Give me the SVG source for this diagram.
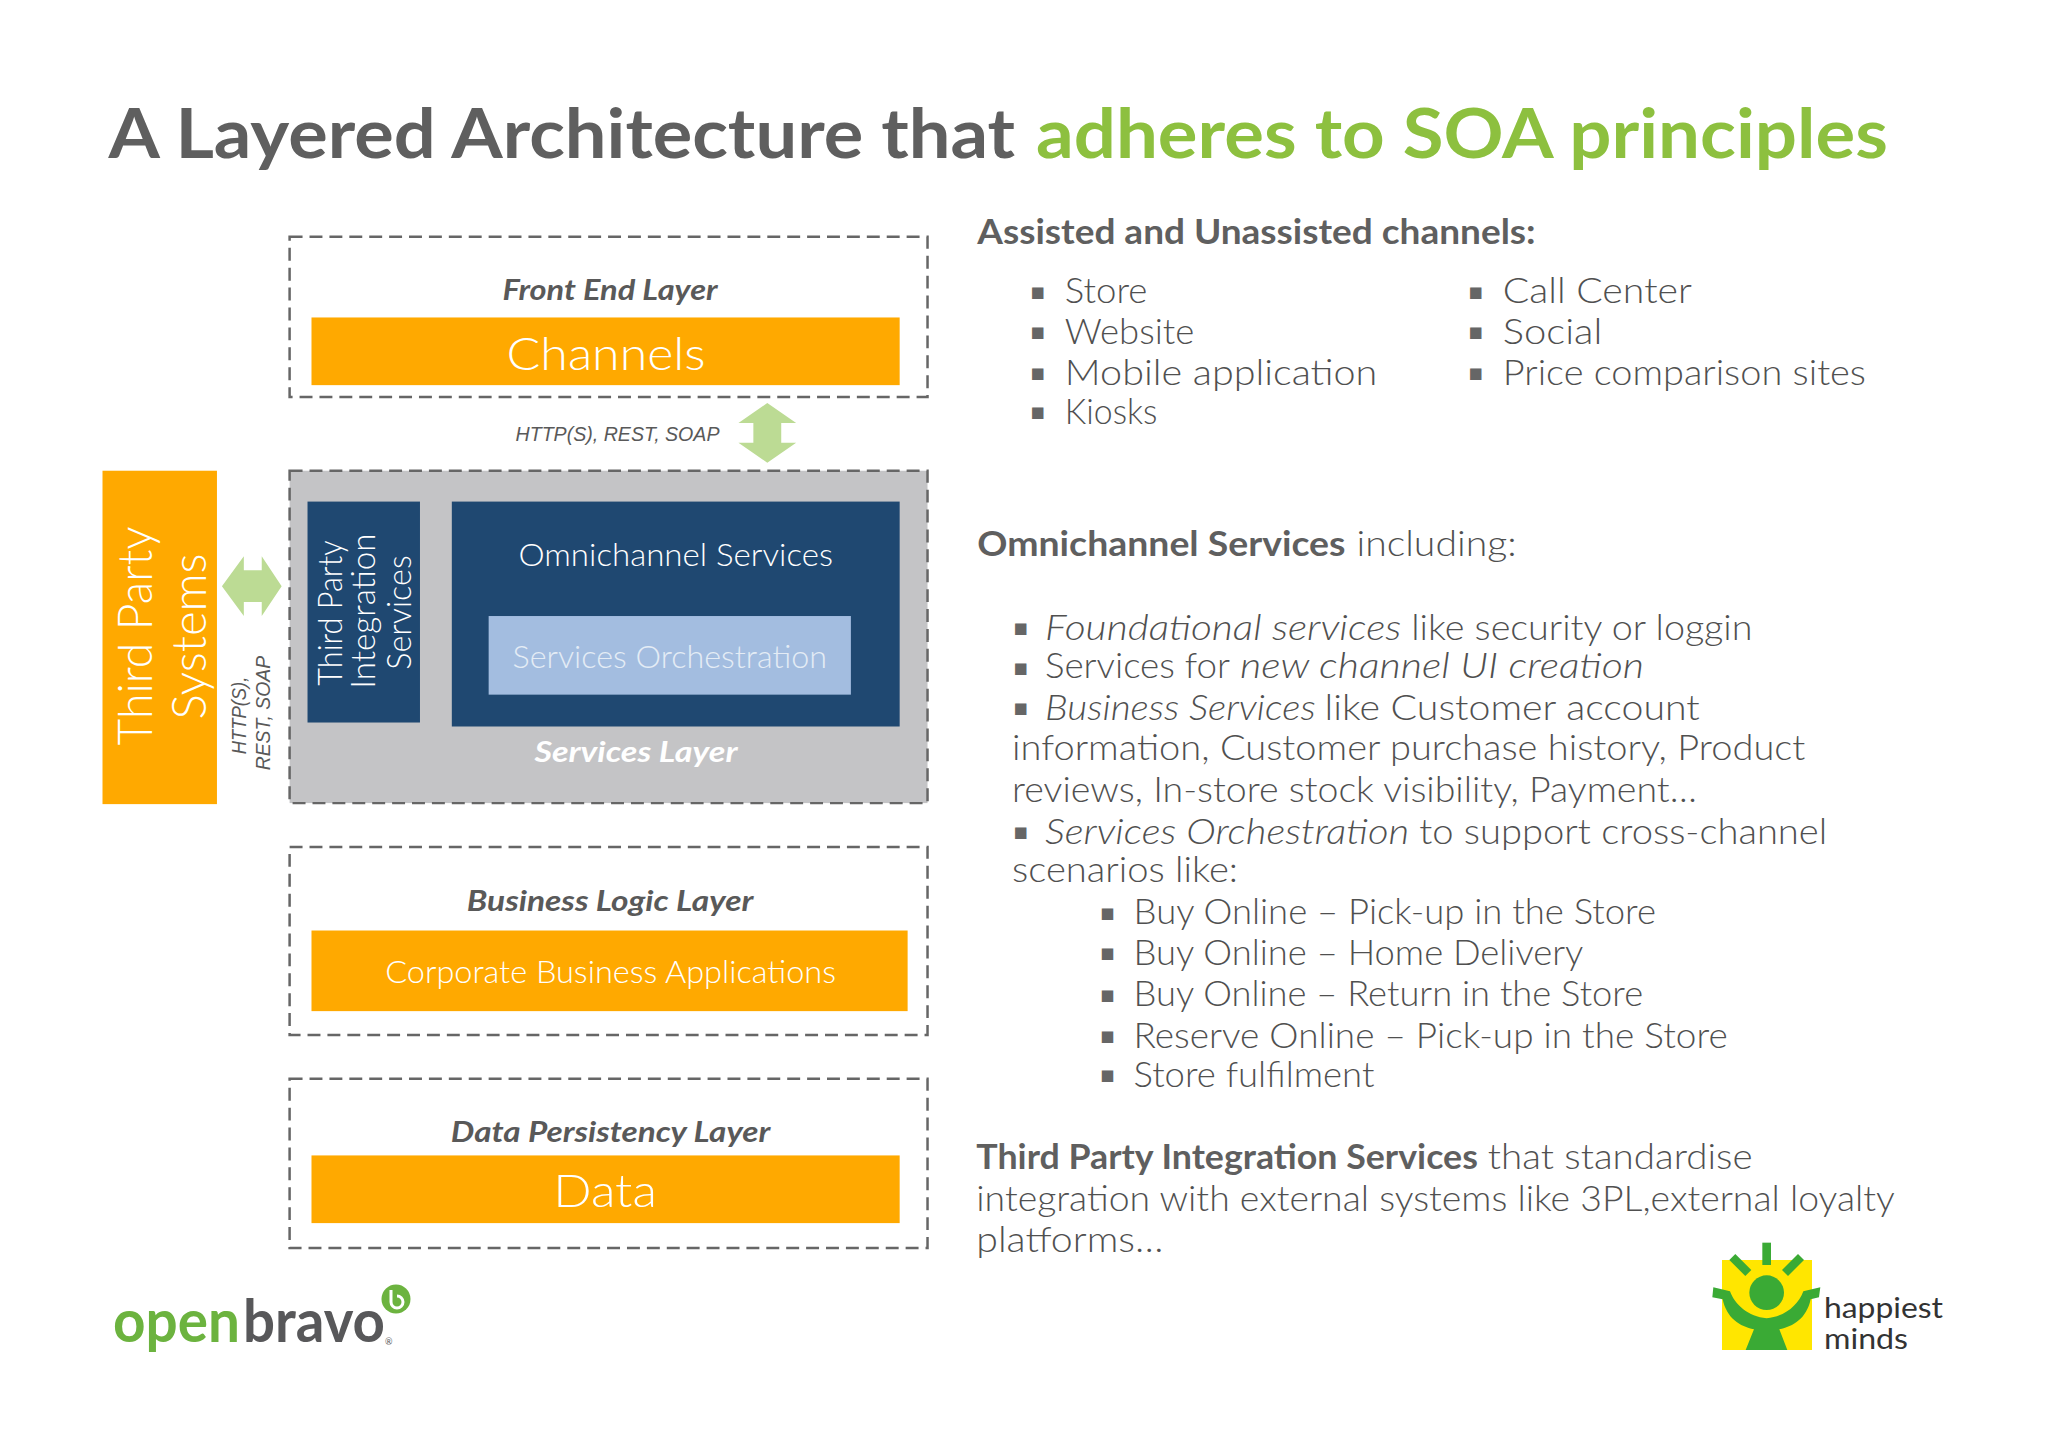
<svg xmlns="http://www.w3.org/2000/svg" width="2048" height="1447" viewBox="0 0 2048 1447">
<style>
text{font-family:"Lato","Liberation Sans",sans-serif;fill:#595959}
.title{font-size:70px;font-weight:700;fill:#5f5f5f}
.green{fill:#8dc03f}
.b{font-size:35px;font-weight:300;fill:#505050}
.bb{font-size:34px;font-weight:700;fill:#5f5f5f}
.i{font-size:35px;font-style:italic;font-weight:300;fill:#505050}
.dot{font-family:"DejaVu Sans",sans-serif;font-size:23px;fill:#666}
.lay{font-size:28px;font-weight:700;font-style:italic}
.proto{font-family:"Liberation Sans",sans-serif;font-size:20px;font-style:italic}
.w{fill:#fff;font-weight:300}
.lay.w{font-weight:700}
.dash{fill:none;stroke:#666;stroke-width:2.5;stroke-dasharray:13 7}
.or{fill:#ffa900}
.navy{fill:#1f4871}
.arrow{fill:#bcdb94}
.hg{fill:#3aaa35}
</style>
<rect width="2048" height="1447" fill="#fff"/>
<g id="diagram" transform="scale(.9952)">
<g id="title">
<text class="title" x="109" y="159" textLength="911" lengthAdjust="spacingAndGlyphs">A Layered Architecture that</text>
<text class="title green" x="1041" y="159" textLength="856" lengthAdjust="spacingAndGlyphs">adheres to SOA principles</text>
</g>
<g id="front-end-layer">
<rect class="dash" x="291" y="238" width="641" height="161"/>
<text class="lay" x="505" y="301" textLength="216" lengthAdjust="spacingAndGlyphs">Front End Layer</text>
<rect class="or" x="313" y="319" width="591" height="68"/>
<text class="w" style="font-size:46px" x="509" y="372" textLength="200" lengthAdjust="spacingAndGlyphs">Channels</text>
</g>
<g id="services-layer">
<rect class="dash" x="291" y="473" width="641" height="334" style="fill:#c4c4c6"/>
<rect class="navy" x="309" y="504" width="113" height="222"/>
<text class="w" style="font-size:33px" transform="translate(344 689) rotate(-90)" textLength="146" lengthAdjust="spacingAndGlyphs">Third Party</text>
<text class="w" style="font-size:33px" transform="translate(377 692) rotate(-90)" textLength="156" lengthAdjust="spacingAndGlyphs">Integration</text>
<text class="w" style="font-size:33px" transform="translate(413 673) rotate(-90)" textLength="115" lengthAdjust="spacingAndGlyphs">Services</text>
<rect class="navy" x="454" y="504" width="450" height="226"/>
<text class="w" style="font-size:32px" x="521" y="569" textLength="316" lengthAdjust="spacingAndGlyphs">Omnichannel Services</text>
<rect x="491" y="619" width="364" height="79" fill="#a3bde0"/>
<text style="font-size:32px;fill:#e4ecf5;font-weight:300" x="515" y="671" textLength="316" lengthAdjust="spacingAndGlyphs">Services Orchestration</text>
<text class="lay w" x="537" y="766" textLength="204" lengthAdjust="spacingAndGlyphs">Services Layer</text>
</g>
<g id="third-party-systems">
<rect class="or" x="103" y="473" width="115" height="335"/>
<text class="w" style="font-size:47px" transform="translate(153 749) rotate(-90)" textLength="220" lengthAdjust="spacingAndGlyphs">Third Party</text>
<text class="w" style="font-size:47px" transform="translate(207 723) rotate(-90)" textLength="167" lengthAdjust="spacingAndGlyphs">Systems</text>
</g>
<g id="business-logic-layer">
<rect class="dash" x="291" y="851" width="641" height="189"/>
<text class="lay" x="469" y="915" textLength="288" lengthAdjust="spacingAndGlyphs">Business Logic Layer</text>
<rect class="or" x="313" y="935" width="599" height="81"/>
<text class="w" style="font-size:32px" x="387" y="988" textLength="453" lengthAdjust="spacingAndGlyphs">Corporate Business Applications</text>
</g>
<g id="data-persistency-layer">
<rect class="dash" x="291" y="1084" width="641" height="170"/>
<text class="lay" x="453" y="1148" textLength="321" lengthAdjust="spacingAndGlyphs">Data Persistency Layer</text>
<rect class="or" x="313" y="1161" width="591" height="68"/>
<text class="w" style="font-size:46px" x="556" y="1213" textLength="104" lengthAdjust="spacingAndGlyphs">Data</text>
</g>
<g id="connectors">
<path class="arrow" d="M771 405 L800 425 H785 V445 H800 L771 465 L742 445 H757 V425 H742 Z"/>
<text class="proto" x="518" y="443" textLength="205" lengthAdjust="spacingAndGlyphs">HTTP(S), REST, SOAP</text>
<path class="arrow" d="M223 589 L245 559 V573 H263 V559 L283 589 L263 619 V605 H245 V619 Z"/>
<text class="proto" transform="translate(247 758) rotate(-90)" textLength="78" lengthAdjust="spacingAndGlyphs">HTTP(S),</text>
<text class="proto" transform="translate(271 774) rotate(-90)" textLength="115" lengthAdjust="spacingAndGlyphs">REST, SOAP</text>
</g>
<g id="channels-text">
<text class="bb" x="982" y="245" textLength="561" lengthAdjust="spacingAndGlyphs">Assisted and Unassisted channels:</text>
<text class="dot" x="1035" y="300">▪</text><text class="b" x="1070" y="304" textLength="83" lengthAdjust="spacingAndGlyphs">Store</text>
<text class="dot" x="1035" y="341">▪</text><text class="b" x="1070" y="346" textLength="130" lengthAdjust="spacingAndGlyphs">Website</text>
<text class="dot" x="1035" y="382">▪</text><text class="b" x="1070" y="387" textLength="314" lengthAdjust="spacingAndGlyphs">Mobile application</text>
<text class="dot" x="1035" y="421">▪</text><text class="b" x="1070" y="426" textLength="93" lengthAdjust="spacingAndGlyphs">Kiosks</text>
<text class="dot" x="1475" y="300">▪</text><text class="b" x="1510" y="304" textLength="190" lengthAdjust="spacingAndGlyphs">Call Center</text>
<text class="dot" x="1475" y="341">▪</text><text class="b" x="1510" y="346" textLength="100" lengthAdjust="spacingAndGlyphs">Social</text>
<text class="dot" x="1475" y="382">▪</text><text class="b" x="1510" y="387" textLength="365" lengthAdjust="spacingAndGlyphs">Price comparison sites</text>
</g>
<g id="omnichannel-text">
<text class="bb" x="982" y="559" textLength="370" lengthAdjust="spacingAndGlyphs">Omnichannel Services</text>
<text class="b" x="1363" y="559" textLength="161" lengthAdjust="spacingAndGlyphs">including:</text>
<text class="dot" x="1018" y="638">▪</text><text class="i" x="1050" y="643" textLength="358" lengthAdjust="spacingAndGlyphs">Foundational services</text>
<text class="b" x="1418" y="643" textLength="343" lengthAdjust="spacingAndGlyphs">like security or loggin</text>
<text class="dot" x="1018" y="678">▪</text><text class="b" x="1050" y="681" textLength="186" lengthAdjust="spacingAndGlyphs">Services for</text>
<text class="i" x="1246" y="681" textLength="406" lengthAdjust="spacingAndGlyphs">new channel UI creation</text>
<text class="dot" x="1018" y="718">▪</text><text class="i" x="1050" y="723" textLength="272" lengthAdjust="spacingAndGlyphs">Business Services</text>
<text class="b" x="1331" y="723" textLength="377" lengthAdjust="spacingAndGlyphs">like Customer account</text>
<text class="b" x="1017" y="764" textLength="797" lengthAdjust="spacingAndGlyphs">information, Customer purchase history, Product</text>
<text class="b" x="1017" y="806" textLength="688" lengthAdjust="spacingAndGlyphs">reviews, In-store stock visibility, Payment…</text>
<text class="dot" x="1018" y="843">▪</text><text class="i" x="1050" y="848" textLength="366" lengthAdjust="spacingAndGlyphs">Services Orchestration</text>
<text class="b" x="1426" y="848" textLength="410" lengthAdjust="spacingAndGlyphs">to support cross-channel</text>
<text class="b" x="1017" y="886" textLength="227" lengthAdjust="spacingAndGlyphs">scenarios like:</text>
<text class="dot" x="1105" y="924">▪</text><text class="b" x="1139" y="928" textLength="525" lengthAdjust="spacingAndGlyphs">Buy Online – Pick-up in the Store</text>
<text class="dot" x="1105" y="965">▪</text><text class="b" x="1139" y="970" textLength="452" lengthAdjust="spacingAndGlyphs">Buy Online – Home Delivery</text>
<text class="dot" x="1105" y="1007">▪</text><text class="b" x="1139" y="1011" textLength="512" lengthAdjust="spacingAndGlyphs">Buy Online – Return in the Store</text>
<text class="dot" x="1105" y="1048">▪</text><text class="b" x="1139" y="1053" textLength="597" lengthAdjust="spacingAndGlyphs">Reserve Online – Pick-up in the Store</text>
<text class="dot" x="1105" y="1087">▪</text><text class="b" x="1139" y="1092" textLength="242" lengthAdjust="spacingAndGlyphs">Store fulfilment</text>
</g>
<g id="integration-text">
<text class="bb" x="981" y="1175" textLength="504" lengthAdjust="spacingAndGlyphs">Third Party Integration Services</text>
<text class="b" x="1495" y="1175" textLength="266" lengthAdjust="spacingAndGlyphs">that standardise</text>
<text class="b" x="981" y="1217" textLength="923" lengthAdjust="spacingAndGlyphs">integration with external systems like 3PL,external loyalty</text>
<text class="b" x="981" y="1258" textLength="188" lengthAdjust="spacingAndGlyphs">platforms…</text>
</g>
</g>
<g id="openbravo-logo">
<text x="113" y="1342" style="font-size:60px;font-weight:700;fill:#6cb33f" textLength="127" lengthAdjust="spacingAndGlyphs">open</text>
<text x="243" y="1342" style="font-size:60px;font-weight:700;fill:#58585a" textLength="142" lengthAdjust="spacingAndGlyphs">bravo</text>
<text x="385" y="1345" style="font-size:9px;fill:#58585a">®</text>
<circle cx="396" cy="1299" r="14.5" fill="#6cb33f"/>
<path d="M391 1290 V1302 A6 6 0 1 0 397 1296" fill="none" stroke="#fff" stroke-width="3"/>
</g>
<g id="happiest-minds-logo">
<rect x="1722" y="1260" width="90" height="90" fill="#ffe600"/>
<g transform="translate(1680 1220) scale(.3333)">
<rect class="hg" x="247" y="68" width="26" height="67"/>
<path class="hg" d="M166 102 L214 150 L196 168 L148 120 Z"/>
<path class="hg" d="M354 102 L306 150 L324 168 L372 120 Z"/>
<circle class="hg" cx="260" cy="218" r="52"/>
<path class="hg" d="M100 202 L150 214 C165 255 205 290 260 295 C315 290 355 255 370 214 L421 202 L417 232 L392 238 C380 295 340 320 298 328 L322 390 H197 L222 328 C180 320 140 295 128 238 L97 232 Z"/>
</g>
<text x="1824" y="1318" style="font-size:29px;fill:#333" textLength="119" lengthAdjust="spacingAndGlyphs">happiest</text>
<text x="1824" y="1349" style="font-size:29px;fill:#333" textLength="84" lengthAdjust="spacingAndGlyphs">minds</text>
</g>
</svg>
